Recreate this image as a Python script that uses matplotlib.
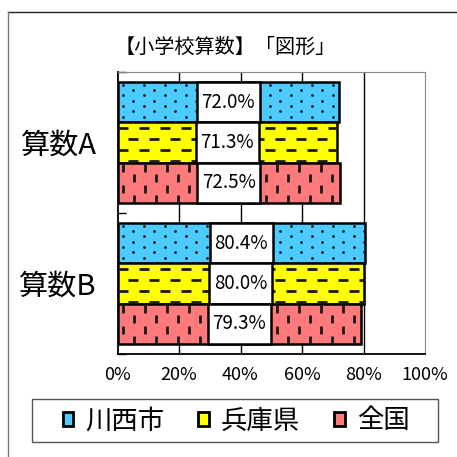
import matplotlib
matplotlib.use("Agg")
import matplotlib.pyplot as plt
from matplotlib.lines import Line2D
from matplotlib.patches import Patch, Rectangle
import numpy as np

plt.rcParams['font.family'] = ['Noto Sans CJK JP', 'DejaVu Sans']

# Data
categories = ["算数A", "算数B"]
series = ["川西市", "兵庫県", "全国"]
kawanishi = [72.0, 80.4]
hyogo = [71.3, 80.0]
zenkoku = [72.5, 79.3]
x_ticks = [0, 20, 40, 60, 80, 100]
x_ticklabels = ["0%", "20%", "40%", "60%", "80%", "100%"]
title = "【小学校算数】「図形」"

colors = ["#4dcbff", "#ffff00", "#ff7a7a"]

fig = plt.figure(figsize=(4.57, 4.57), dpi=100)
ax = fig.add_axes([117.5 / 457, 1 - 354 / 457, 307.5 / 457, 282 / 457])

# pixel -> data conversion for the fill patterns
px_x = 100 / 307.5
px_y = 2 / 282

bar_h = 0.285
offsets = [-bar_h, 0, bar_h]
values = [kawanishi, hyogo, zenkoku]

# pattern: (marker, size, linewidth, dx px, dy px)
patterns = [
    ("o", 4, 0, 21, 5.3),
    ("_", 52, 2.0, 21, 11),
    ("|", 30, 2.0, 22, 10.5),
]


def fill_pattern(bar, pat):
    marker, size, lw, dx_px, dy_px = pat
    x0, y0 = bar.get_x(), bar.get_y()
    w, h = bar.get_width(), bar.get_height()
    dx, dy = dx_px * px_x, dy_px * px_y
    pts = []
    rows = np.arange(y0 + dy / 2, y0 + h, dy)
    for j, yy in enumerate(rows):
        xs = np.arange(x0 + (j % 2) * dx / 2 + dx / 4, x0 + w + dx, dx)
        pts.extend((xx, yy) for xx in xs)
    pts = np.array(pts)
    sc = ax.scatter(pts[:, 0], pts[:, 1], s=size, marker=marker,
                    color="#1a1a1a", linewidths=lw, zorder=3)
    sc.set_clip_path(bar)


y = np.arange(len(categories))
for vals, off, col, pat in zip(values, offsets, colors, patterns):
    bars = ax.barh(y + off, vals, height=bar_h, color=col,
                   edgecolor="black", linewidth=1.8, zorder=2)
    for b in bars:
        fill_pattern(b, pat)
    for b, v in zip(bars, vals):
        # white value box in the middle of each bar
        bw = 20.5
        ax.add_patch(Rectangle((v / 2 - bw / 2, b.get_y()), bw, bar_h,
                               facecolor="white", edgecolor="black",
                               linewidth=1.8, zorder=4))
        ax.text(v / 2, b.get_y() + bar_h / 2, f"{v:.1f}%", ha="center",
                va="center", fontsize=13.5, zorder=5)

ax.set_xlim(0, 100)
ax.set_ylim(1.5, -0.5)
ax.set_xticks(x_ticks)
ax.set_xticklabels(x_ticklabels, fontsize=13)
ax.tick_params(axis="x", length=0, pad=9)
ax.set_yticks(y)
ax.set_yticklabels(categories, fontsize=21)
ax.tick_params(axis="y", which="major", length=0, pad=15)
ax.set_yticks([-0.5, 0.5, 1.5], minor=True)
ax.tick_params(axis="y", which="minor", direction="in", length=6,
               width=1, color="black")

for gx in x_ticks[1:-1]:
    ax.axvline(gx, color="black", linewidth=1, zorder=1)

ax.spines["left"].set_color("black")
ax.spines["left"].set_linewidth(1.3)
ax.spines["bottom"].set_color("black")
ax.spines["bottom"].set_linewidth(1.3)
ax.spines["top"].set_color("#888888")
ax.spines["right"].set_color("#888888")

fig.text(225 / 457, 1 - 47 / 457, title, ha="center", va="center",
         fontsize=14.5)

# legend with its own frame
handles = [Patch(facecolor=c, edgecolor="black", linewidth=2) for c in colors]
fig.legend(handles, series, loc="center", ncol=3, frameon=False,
           bbox_to_anchor=(236 / 457, 1 - 421 / 457), fontsize=19,
           handlelength=0.4, handleheight=0.4, handletextpad=0.45,
           columnspacing=1.3)
fig.add_artist(Rectangle((32 / 457, 1 - 442 / 457), 406 / 457, 43 / 457,
                         transform=fig.transFigure, fill=False,
                         edgecolor="#555555", linewidth=1))

# outer frame
fig.add_artist(Line2D([8 / 457, 1], [1 - 12 / 457, 1 - 12 / 457],
                      transform=fig.transFigure, color="#222222",
                      linewidth=1))
fig.add_artist(Line2D([8 / 457, 8 / 457], [0, 1 - 12 / 457],
                      transform=fig.transFigure, color="#777777",
                      linewidth=1))

fig.savefig("out.png", dpi=100)
